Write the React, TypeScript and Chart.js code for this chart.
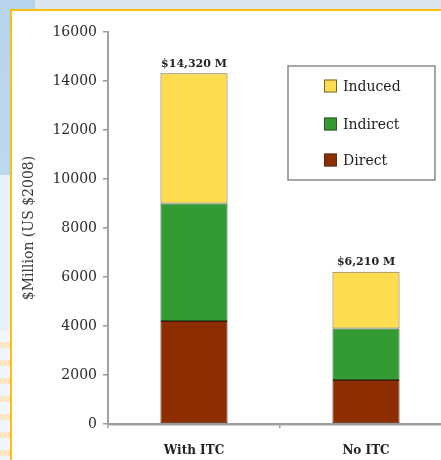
import React, { useEffect, useRef } from "react";
import { Chart, registerables } from "chart.js";

Chart.register(...registerables);

const categories: string[] = ["With ITC", "No ITC"];
const directValues: number[] = [4200, 1800];
const indirectValues: number[] = [4800, 2100];
const inducedValues: number[] = [5320, 2310];
const yTickValues: number[] = [0, 2000, 4000, 6000, 8000, 10000, 12000, 14000, 16000];
const yTitle = "$Million (US $2008)";

const totals = categories.map((_, i) => directValues[i] + indirectValues[i] + inducedValues[i]);
const totalLabels = totals.map((t) => "$" + t.toLocaleString("en-US") + " M");

const SERIF = "'DejaVu Serif', 'Liberation Serif', serif";

const totalsPlugin = {
  id: "totalsPlugin",
  afterDatasetsDraw(chart: any) {
    const ctx = chart.ctx;
    const meta = chart.getDatasetMeta(chart.data.datasets.length - 1);
    ctx.save();
    ctx.font = `bold 11px ${SERIF}`;
    ctx.fillStyle = "#222";
    ctx.textAlign = "center";
    ctx.textBaseline = "bottom";
    meta.data.forEach((el: any, i: number) => {
      ctx.fillText(totalLabels[i], el.x, el.y - 4);
    });
    ctx.restore();
  },
};

const legendBoxPlugin = {
  id: "legendBoxPlugin",
  afterDraw(chart: any) {
    const ctx = chart.ctx;
    const x0 = 276, y0 = 55, w = 147, h = 114;
    ctx.save();
    ctx.strokeStyle = "#8a8a8a";
    ctx.lineWidth = 1.5;
    ctx.strokeRect(x0, y0, w, h);
    const ds = chart.data.datasets.slice().reverse();
    const ys = [75, 113, 149];
    ctx.font = `14px ${SERIF}`;
    ctx.textBaseline = "middle";
    ctx.textAlign = "left";
    ds.forEach((d: any, i: number) => {
      const y = ys[i];
      ctx.fillStyle = d.backgroundColor;
      ctx.fillRect(312, y - 6.5, 13, 13);
      ctx.strokeStyle = "rgba(60,50,30,0.7)";
      ctx.lineWidth = 1;
      ctx.strokeRect(312.5, y - 6, 12, 12);
      ctx.fillStyle = "#222";
      ctx.fillText(d.label, 331, y + 1);
    });
    ctx.restore();
  },
};

export default function App() {
  const ref = useRef<HTMLCanvasElement | null>(null);

  useEffect(() => {
    if (!ref.current) return;
    const chart = new Chart(ref.current, {
      type: "bar",
      data: {
        labels: categories,
        datasets: [
          {
            label: "Direct",
            data: directValues,
            backgroundColor: "#8c2d00",
            borderColor: "#4a1800",
            borderWidth: 1,
            borderSkipped: false,
          },
          {
            label: "Indirect",
            data: indirectValues,
            backgroundColor: "#349a34",
            borderColor: "#1f5a1f",
            borderWidth: 1,
            borderSkipped: false,
          },
          {
            label: "Induced",
            data: inducedValues,
            backgroundColor: "#fddc50",
            borderColor: "#7a6d4a",
            borderWidth: 1,
            borderSkipped: false,
          },
        ],
      },
      options: {
        responsive: false,
        animation: false,
        devicePixelRatio: window.devicePixelRatio || 1,
        layout: { padding: { top: 21, right: 5, bottom: 0, left: 0 } },
        plugins: {
          legend: { display: false },
          tooltip: { enabled: false },
        },
        datasets: {
          bar: { categoryPercentage: 1, barPercentage: 0.39 },
        },
        scales: {
          x: {
            stacked: true,
            grid: {
              display: true,
              drawOnChartArea: false,
              drawTicks: true,
              tickLength: 4,
              color: "#999",
              lineWidth: 1.5,
              offset: true,
            },
            border: { display: true, color: "#a0a0a0", width: 2.5 },
            ticks: {
              color: "#222",
              padding: 16,
              font: { family: SERIF, size: 12, weight: "bold" },
            },
            afterFit(scale: any) {
              scale.height = 36;
            },
          },
          y: {
            stacked: true,
            min: 0,
            max: 16000,
            afterBuildTicks(scale: any) {
              scale.ticks = yTickValues.map((v) => ({ value: v }));
            },
            grid: {
              display: true,
              drawOnChartArea: false,
              drawTicks: true,
              tickLength: 5,
              color: "#999",
              lineWidth: 1.5,
            },
            border: { display: true, color: "#a0a0a0", width: 2 },
            ticks: {
              color: "#2a2a2a",
              padding: 6,
              font: { family: SERIF, size: 14 },
              callback: (v: any) => String(v),
            },
            title: {
              display: true,
              text: yTitle,
              color: "#3a3a3a",
              font: { family: SERIF, size: 14 },
              padding: { top: 9, bottom: 0 },
            },
            afterFit(scale: any) {
              scale.width = 96;
            },
          },
        },
      },
      plugins: [totalsPlugin, legendBoxPlugin],
    });
    return () => chart.destroy();
  }, []);

  return (
    <div
      style={{
        position: "absolute",
        left: 0,
        top: 0,
        width: 441,
        height: 460,
        overflow: "hidden",
        background: "#dde6ee",
      }}
    >
      <div style={{ position: "absolute", left: 0, top: 0, width: 35, height: 9, background: "#b6d4ec" }} />
      <div
        style={{
          position: "absolute",
          left: 0,
          top: 0,
          width: 10,
          height: 175,
          background: "linear-gradient(#b6d4ec, #bcd8ef)",
        }}
      />
      <div style={{ position: "absolute", left: 0, top: 175, width: 10, height: 155, background: "#e6f0fa" }} />
      <div
        style={{
          position: "absolute",
          left: 0,
          top: 330,
          width: 10,
          height: 130,
          background:
            "repeating-linear-gradient(#f1f6fc 0px, #f1f6fc 12px, #fde7c4 12px, #fde7c4 18px)",
        }}
      />
      <div
        style={{
          position: "absolute",
          left: 10,
          top: 9,
          right: 0,
          bottom: 0,
          borderLeft: "2px solid #f9c010",
          borderTop: "2px solid #f9c010",
          background: "#ffffff",
          overflow: "hidden",
        }}
      >
        <canvas ref={ref} width={445} height={449} style={{ width: 445, height: 449, display: "block" }} />
      </div>
    </div>
  );
}
